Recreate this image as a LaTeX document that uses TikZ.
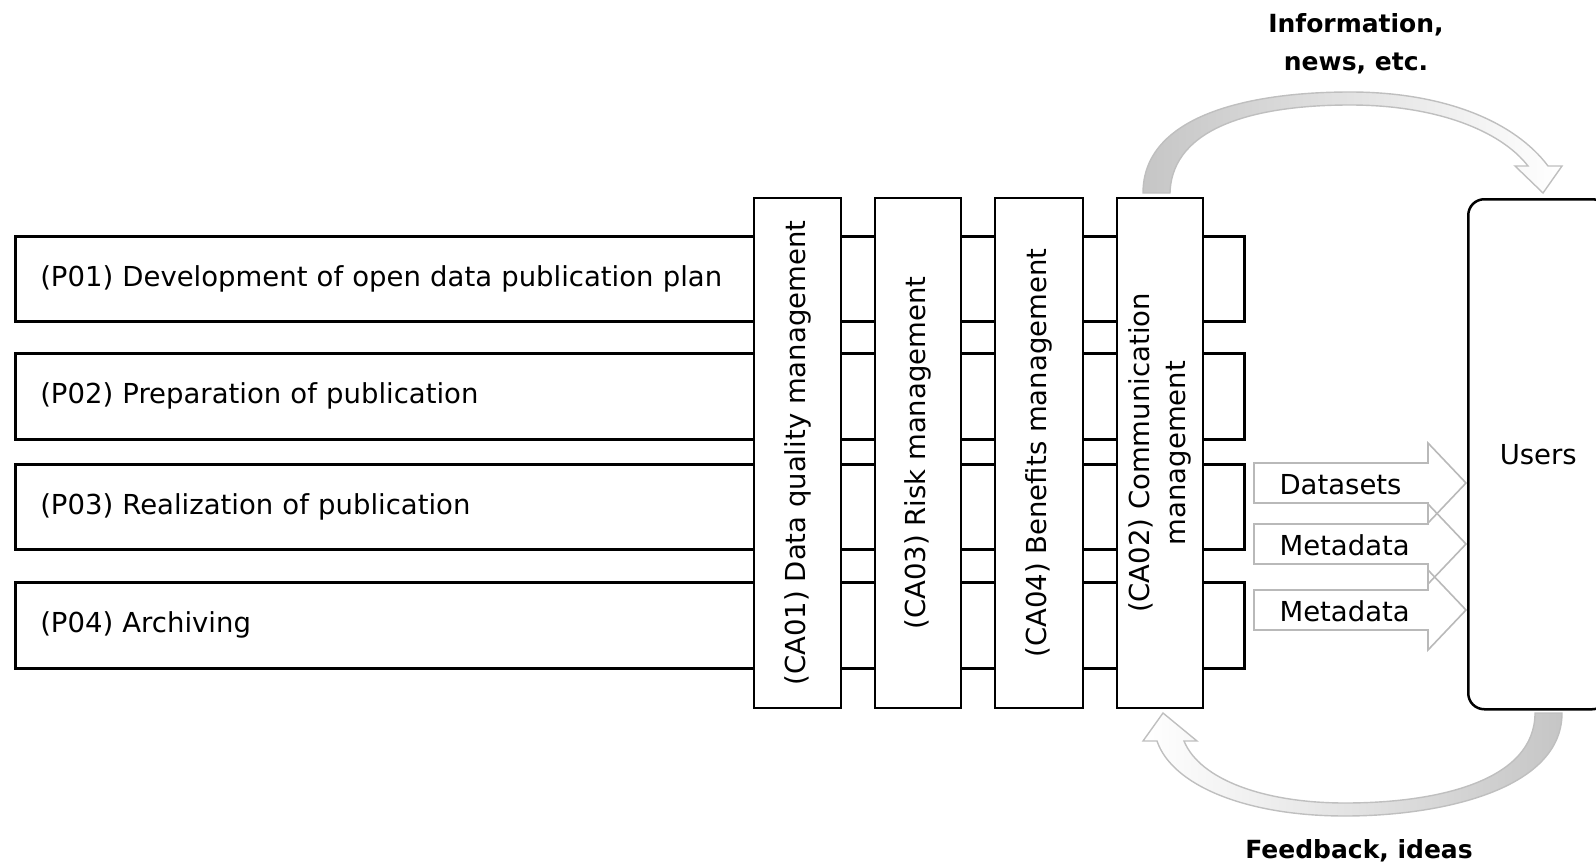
\documentclass[tikz,border=0pt]{standalone}
\usepackage{fontspec}
\setmainfont{DejaVu Sans}
\begin{document}
\begin{tikzpicture}[x=1pt,y=-1pt,
  txt/.style={font=\fontsize{27.5}{36}\selectfont},
  rowbox/.style={draw, line width=2.5pt, fill=white, anchor=north west, minimum width=1229pt,
     text width=1179pt, inner xsep=25pt, align=left, txt},
  colbox/.style={draw, line width=2.5pt, fill=white, rotate=90, minimum width=510pt, align=center, txt, inner sep=0pt},
  usersbox/.style={draw, line width=2.5pt, fill=white, rounded corners=16pt, anchor=north west,
     minimum width=140pt, minimum height=510pt, txt},
  blockarrow/.style={draw=gray!55, line width=1.6pt},
  curvearrow/.style={draw=gray!50, line width=1.4pt},
  lbl/.style={font=\fontsize{25}{38}\selectfont\bfseries, align=center}]
\useasboundingbox (0,0) rectangle (1596,867);
\clip (0,0) rectangle (1596,867);

% rows
\node[rowbox, minimum height=85pt] (p1) at (14,235) {(P01) Development of open data publication plan};
\node[rowbox, minimum height=86pt] (p2) at (14,352) {(P02) Preparation of publication};
\node[rowbox, minimum height=85pt] (p3) at (14,463) {(P03) Realization of publication};
\node[rowbox, minimum height=86pt] (p4) at (14,581) {(P04) Archiving};

% columns
\node[colbox, minimum height=87pt] (c1) at (797.5,453) {(CA01) Data quality management};
\node[colbox, minimum height=86pt] (c3) at (918,453) {(CA03) Risk management};
\node[colbox, minimum height=88pt] (c4) at (1039,453) {(CA04) Benefits management};
\node[colbox, minimum height=86pt] (c2) at (1160,453) {(CA02) Communication\\management};

% users
\node[usersbox] (users) at (1467,198) {Users};

% block arrows
\foreach \c in {483,544,610}{
  \draw[blockarrow] (1254,\c-20) -- (1428,\c-20) -- (1428,\c-40) -- (1466,\c) -- (1428,\c+40) -- (1428,\c+20) -- (1254,\c+20) -- cycle;
}
\node[txt, anchor=west] (ds) at (1276,485) {Datasets};
\node[txt, anchor=west] (md1) at (1276,545) {Metadata};
\node[txt, anchor=west] (md2) at (1276,611) {Metadata};

% top curved arrow
\path[curvearrow, left color=gray!45, right color=white]
  (1143,193) .. controls (1143,115) and (1250,92) .. (1350,92)
  .. controls (1445,92) and (1515,122) .. (1548,166)
  -- (1562,166) -- (1543,193) -- (1515,166) -- (1528,166)
  .. controls (1500,130) and (1435,105) .. (1350,105)
  .. controls (1260,105) and (1172,125) .. (1170,193) -- cycle;

% bottom curved arrow
\path[curvearrow, left color=white, right color=gray!45]
  (1562,713) .. controls (1562,790) and (1440,816) .. (1345,816)
  .. controls (1245,816) and (1172,785) .. (1157,741)
  -- (1143,741) -- (1163,713) -- (1197,741) -- (1184,741)
  .. controls (1200,780) and (1265,803) .. (1345,803)
  .. controls (1440,803) and (1535,780) .. (1535,713) -- cycle;

% labels
\node[lbl] (info) at (1356,44) {Information,\\news, etc.};
\node[lbl] (fb) at (1359,851) {Feedback, ideas};
\end{tikzpicture}
\end{document}
